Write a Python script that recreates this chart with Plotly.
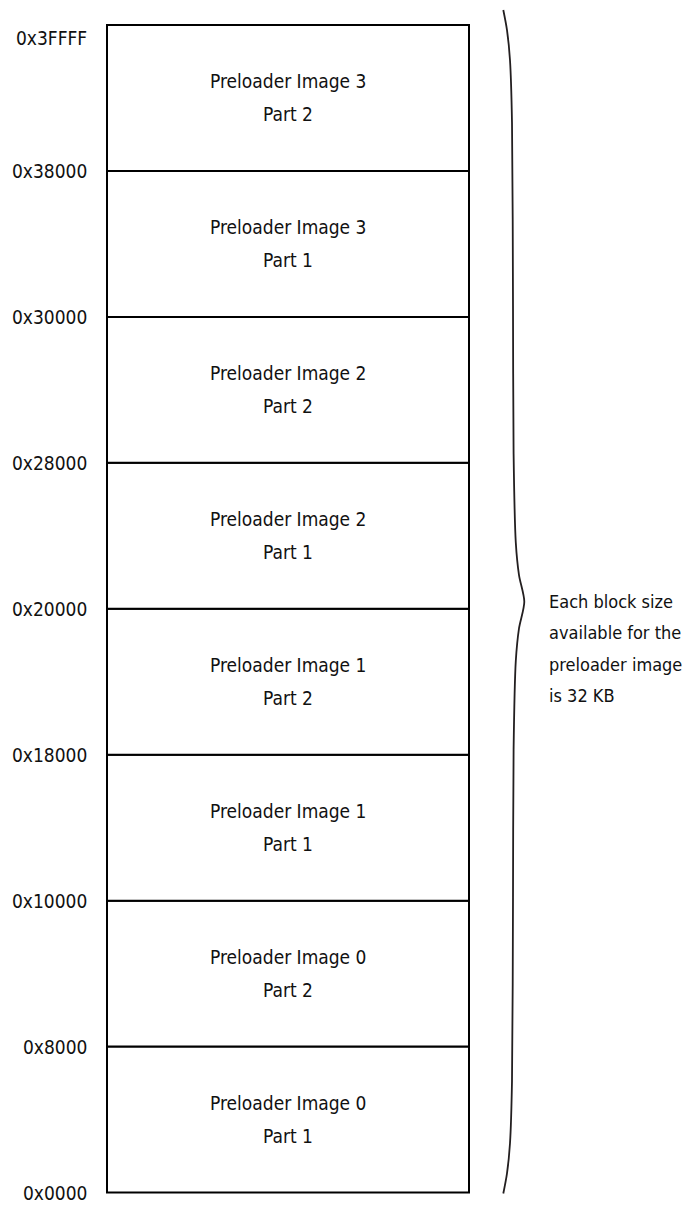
import plotly.graph_objects as go

# memory map data (addresses in bytes)
block_starts = [0x00000, 0x08000, 0x10000, 0x18000, 0x20000, 0x28000, 0x30000, 0x38000]
block_size = 0x8000
block_titles = [
    "Preloader Image 0", "Preloader Image 0",
    "Preloader Image 1", "Preloader Image 1",
    "Preloader Image 2", "Preloader Image 2",
    "Preloader Image 3", "Preloader Image 3",
]
block_parts = ["Part 1", "Part 2", "Part 1", "Part 2", "Part 1", "Part 2", "Part 1", "Part 2"]
boundary_addrs = [0x00000, 0x08000, 0x10000, 0x18000, 0x20000, 0x28000, 0x30000, 0x38000, 0x3FFFF]
boundary_labels = ["0x0000", "0x8000", "0x10000", "0x18000", "0x20000",
                   "0x28000", "0x30000", "0x38000", "0x3FFFF"]
note_lines = ["Each block size", "available for the", "preloader image", "is 32 KB"]

# the page body has an 8px margin, so draw in page pixels minus that offset
OFF = 8
W, H = 694 - OFF, 1205 - OFF
FONT = "DejaVu Sans Condensed, DejaVu Sans, sans-serif"
TXT = "#111111"
FS = 19

# pixel calibration of the address axis
top_px, bot_px = 25.0 - OFF, 1192.5 - OFF
span = block_starts[-1] + block_size
k = (bot_px - top_px) / span
y_lo = -(H - bot_px) / k
y_hi = span + top_px / k

box_left, box_right = 107.0 - OFF, 469.0 - OFF
box_cx = (box_left + box_right) / 2

fig = go.Figure()

fig.add_trace(go.Bar(
    x=[box_cx] * len(block_starts),
    y=[block_size] * len(block_starts),
    base=block_starts,
    width=box_right - box_left,
    marker=dict(color="white", line=dict(color="black", width=2)),
    hoverinfo="skip",
    showlegend=False,
))

# brace: profile (fraction along half-length, x position in page pixels)
brace_top = span + 15 / k
brace_bot = 0 - 1 / k
brace_mid = (brace_top + brace_bot) / 2
profile = [(0.0, 503.3), (0.034, 507.0), (0.085, 510.0), (0.19, 512.0),
           (0.5, 513.0), (0.75, 513.6), (0.90, 515.8), (0.955, 519.0), (1.0, 524.3)]
bx, by = [], []
for f, px in profile:
    bx.append(px - OFF)
    by.append(brace_top - f * (brace_top - brace_mid))
for f, px in reversed(profile[:-1]):
    bx.append(px - OFF)
    by.append(brace_bot + f * (brace_mid - brace_bot))
fig.add_trace(go.Scatter(
    x=bx, y=by, mode="lines",
    line=dict(color="#231f20", width=1.8, shape="spline", smoothing=0.8),
    hoverinfo="skip", showlegend=False,
))

annotations = []
for start, title, part in zip(block_starts, block_titles, block_parts):
    mid = start + block_size / 2
    annotations.append(dict(x=box_cx, y=mid, text=title, showarrow=False,
                            xanchor="center", yanchor="middle", yshift=17,
                            font=dict(family=FONT, size=FS, color=TXT)))
    annotations.append(dict(x=box_cx, y=mid, text=part, showarrow=False,
                            xanchor="center", yanchor="middle", yshift=-16,
                            font=dict(family=FONT, size=FS, color=TXT)))

for addr, lab in zip(boundary_addrs, boundary_labels):
    shift = -13 if addr == boundary_addrs[-1] else 0
    annotations.append(dict(x=89 - OFF, y=addr, text=lab, showarrow=False,
                            xanchor="right", yanchor="middle", yshift=shift,
                            font=dict(family=FONT, size=FS, color=TXT)))

note_first = (bot_px - (601.5 - OFF)) / k
for i, line in enumerate(note_lines):
    annotations.append(dict(x=547 - OFF, y=note_first, text=line, showarrow=False,
                            xanchor="left", yanchor="middle", yshift=-31.3 * i,
                            font=dict(family=FONT, size=18, color=TXT)))

fig.update_layout(
    width=W, height=H,
    margin=dict(l=0, r=0, t=0, b=0),
    paper_bgcolor="white", plot_bgcolor="white",
    barmode="overlay",
    xaxis=dict(range=[0, W], visible=False, fixedrange=True),
    yaxis=dict(range=[y_lo, y_hi], visible=False, fixedrange=True),
    annotations=annotations,
)

fig.write_html("out.html")
